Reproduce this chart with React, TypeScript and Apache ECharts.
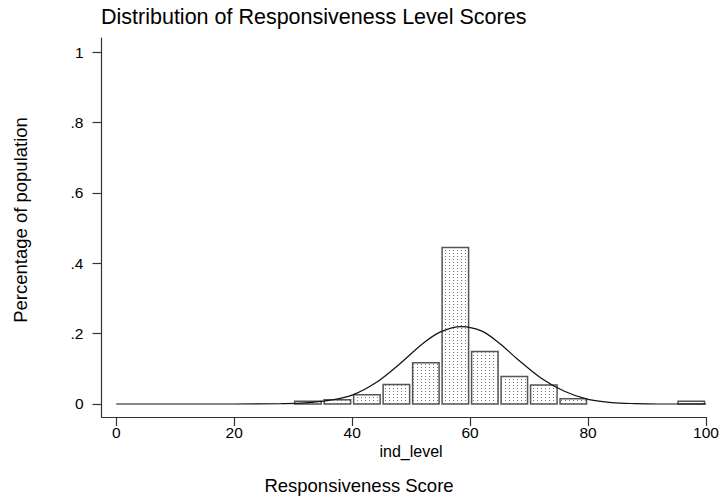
import React, { useEffect, useRef } from "react";
import * as echarts from "echarts";

// Histogram bins (start of each 5-point bin) and the fraction of population in each
const binStarts = [30, 35, 40, 45, 50, 55, 60, 65, 70, 75, 95];
const binWidth = 5;
const binFractions = [0.008, 0.012, 0.026, 0.055, 0.117, 0.445, 0.149, 0.078, 0.054, 0.015, 0.008];

// Overlaid normal curve
const curveX = [0, 20, 28, 32, 36, 40, 44, 48, 52, 55, 58.5, 62, 65, 68, 72, 76, 80, 84, 88, 92, 100];
const curveY = [0, 0, 0.001, 0.003, 0.01, 0.025, 0.06, 0.113, 0.172, 0.205, 0.22, 0.207, 0.172, 0.128, 0.074, 0.036, 0.013, 0.004, 0.001, 0, 0];

const xTicks = [0, 20, 40, 60, 80, 100];
const yTicks = [0, 0.2, 0.4, 0.6, 0.8, 1];
const yTickLabels = ["0", ".2", ".4", ".6", ".8", "1"];

const titleText = "Distribution of Responsiveness Level Scores";
const yTitle = "Percentage of population";
const xVarName = "ind_level";
const xTitle = "Responsiveness Score";

const FONT = "Liberation Sans, Arial, sans-serif";

export default function App() {
  const ref = useRef<HTMLDivElement>(null);

  useEffect(() => {
    const chart = echarts.init(ref.current!, null, { renderer: "svg" });

    const cv = document.createElement("canvas");
    cv.width = 4;
    cv.height = 3;
    const ctx = cv.getContext("2d")!;
    ctx.fillStyle = "#ffffff";
    ctx.fillRect(0, 0, 4, 3);
    ctx.fillStyle = "#777777";
    ctx.fillRect(1, 1, 1, 1);
    const dotPattern: any = { image: cv.toDataURL(), repeat: "repeat", imageWidth: 4, imageHeight: 3 };

    const barData = binStarts.map((s, i) => [s, s + binWidth, binFractions[i]]);
    const curveData = curveX.map((x, i) => [x, curveY[i]]);

    const option: any = {
      animation: false,
      backgroundColor: "#ffffff",
      grid: { left: 101.5, right: 16, top: 38, bottom: 80, containLabel: false },
      xAxis: {
        type: "value",
        min: -2.5,
        max: 100,
        splitLine: { show: false },
        axisLine: { show: true, onZero: false, lineStyle: { color: "#333", width: 1.2 } },
        axisTick: { show: true, customValues: xTicks, length: 9, lineStyle: { color: "#333", width: 1.2 } },
        axisLabel: {
          customValues: xTicks,
          margin: 7,
          color: "#000",
          fontSize: 15.5,
          fontFamily: FONT,
        },
      },
      yAxis: {
        type: "value",
        min: -0.037,
        max: 1.04,
        splitLine: { show: false },
        axisLine: { show: true, onZero: false, lineStyle: { color: "#333", width: 1.2 } },
        axisTick: { show: true, customValues: yTicks, length: 9, lineStyle: { color: "#333", width: 1.2 } },
        axisLabel: {
          customValues: yTicks,
          margin: 18,
          color: "#000",
          fontSize: 15.5,
          fontFamily: FONT,
          formatter: (v: number) => {
            const i = yTicks.findIndex((t) => Math.abs(t - v) < 1e-6);
            return i >= 0 ? yTickLabels[i] : "";
          },
        },
      },
      graphic: [
        {
          type: "text",
          left: 101,
          top: 5.5,
          style: { text: titleText, fill: "#000", font: `21.5px ${FONT}` },
        },
        {
          type: "text",
          x: 411,
          y: 451,
          style: { text: xVarName, fill: "#000", font: `16px ${FONT}`, align: "center", verticalAlign: "middle" },
        },
        {
          type: "text",
          x: 359,
          y: 485,
          style: { text: xTitle, fill: "#000", font: `18.5px ${FONT}`, align: "center", verticalAlign: "middle" },
        },
        {
          type: "text",
          x: 20,
          y: 220,
          rotation: Math.PI / 2,
          style: { text: yTitle, fill: "#000", font: `18.5px ${FONT}`, align: "center", verticalAlign: "middle" },
        },
      ],
      series: [
        {
          type: "custom",
          data: barData,
          encode: { x: [0, 1], y: 2 },
          renderItem: (_params: any, api: any) => {
            const x0 = api.value(0);
            const x1 = api.value(1);
            const h = api.value(2);
            const p0 = api.coord([x0, 0]);
            const p1 = api.coord([x1, h]);
            return {
              type: "rect",
              shape: { x: p0[0] + 1.5, y: p1[1], width: p1[0] - p0[0] - 3, height: p0[1] - p1[1] },
              style: { fill: dotPattern, stroke: "#555", lineWidth: 1.5 },
            };
          },
          z: 2,
        },
        {
          type: "line",
          data: curveData,
          smooth: 0.35,
          showSymbol: false,
          symbol: "none",
          lineStyle: { color: "#111", width: 1.2 },
          z: 3,
        },
      ],
    };

    chart.setOption(option);
    return () => chart.dispose();
  }, []);

  return <div ref={ref} style={{ position: "absolute", left: 0, top: 0, width: 722, height: 497 }} />;
}
